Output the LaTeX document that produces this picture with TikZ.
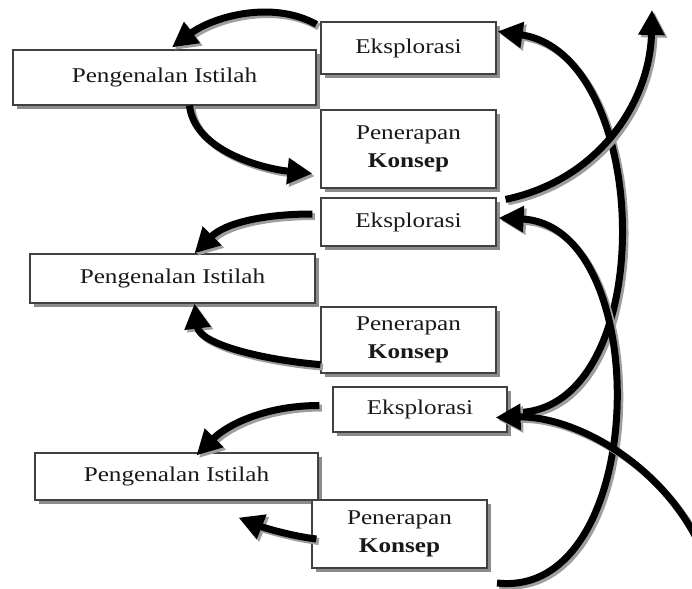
\documentclass[tikz,border=0pt]{standalone}
\usepackage{fontspec}
\setmainfont[FakeStretch=1.2]{Liberation Serif}
\usetikzlibrary{arrows.meta,shadows,calc}
\newcommand\shadedarrow[1]{%
  \begin{scope}[transform canvas={shift={(2.5pt,-2.5pt)}}]\draw[arrsh] #1;\end{scope}
  \draw[arr] #1;}
\begin{document}
\begin{tikzpicture}[x=1pt,y=-1pt,
  box/.style={draw=black!75, line width=1.2pt, fill=white, inner sep=0pt,
    text=black!90, align=center,
    font=\fontsize{21}{28}\selectfont,
    drop shadow={shadow xshift=4pt,shadow yshift=-4pt,fill=black!45,opacity=1}},
  arr/.style={line width=7pt, -{Triangle[length=25pt,width=25pt]}},
  arrsh/.style={arr, draw=black!38}
]
\useasboundingbox (0,0) rectangle (692,588);

% boxes
\node[box, minimum width=175pt, minimum height=52pt] (E1) at (408.5,48) {Eksplorasi};
\node[box, minimum width=303pt, minimum height=55pt] (P1) at (164.5,77.5) {Pengenalan Istilah};
\node[box, minimum width=175pt, minimum height=78pt] (K1) at (408.5,149) {Penerapan\\\textbf{Konsep}};
\node[box, minimum width=175pt, minimum height=48pt] (E2) at (408.5,222) {Eksplorasi};
\node[box, minimum width=285pt, minimum height=49pt] (P2) at (172.5,278.5) {Pengenalan Istilah};
\node[box, minimum width=175pt, minimum height=66pt] (K2) at (408.5,340) {Penerapan\\\textbf{Konsep}};
\node[box, minimum width=174pt, minimum height=45pt] (E3) at (420,409.5) {Eksplorasi};
\node[box, minimum width=283pt, minimum height=47pt] (P3) at (176.5,476.5) {Pengenalan Istilah};
\node[box, minimum width=175pt, minimum height=68pt] (K3) at (399.5,534) {Penerapan\\\textbf{Konsep}};

\coordinate (zstart) at (497,583);
\coordinate (wend) at (652,10);
\coordinate (ystart) at (720,610);

% left arrows
\shadedarrow{($(E1.north west)+(-4,3)$) .. controls +(-45,-25) and +(40,-30) .. ($(P1.north)+(7.5,-2)$)}
\shadedarrow{($(P1.south)+(25,0)$) .. controls +(5,45) and +(-50,-5) .. ($(K1.south west)+(-8,-15)$)}
\shadedarrow{($(E2.west)+(-8,-8)$) .. controls +(-50,0) and +(30,-30) .. ($(P2.north)+(22,0)$)}
\shadedarrow{($(K2.south west)+(0,-9)$) .. controls +(-60,-5) and +(5,40) .. ($(P2.south)+(22,0)$)}
\shadedarrow{($(E3.west)+(-13,-4)$) .. controls +(-55,0) and +(30,-30) .. ($(P3.north)+(20,3)$)}
\shadedarrow{($(K3.west)+(5,5)$) .. controls +(-25,-3) and +(25,10) .. ($(P3.south)+(62,17)$)}

% right arrows
\shadedarrow{($(E3.east)+(3,3)$) .. controls +(150,8) and +(158,23) .. ($(E1.north east)+(1,10)$)}
\shadedarrow{(zstart) .. controls +(153,17) and +(157,7) .. ($(E2.east)+(2,-4)$)}
\shadedarrow{($(E2.north east)+(9,2)$) .. controls +(95,-20) and +(-2,90) .. (wend)}
\shadedarrow{(ystart) .. controls +(-20,-130) and +(85,-2) .. ($(E3.east)+(-12,8)$)}
\end{tikzpicture}
\end{document}
